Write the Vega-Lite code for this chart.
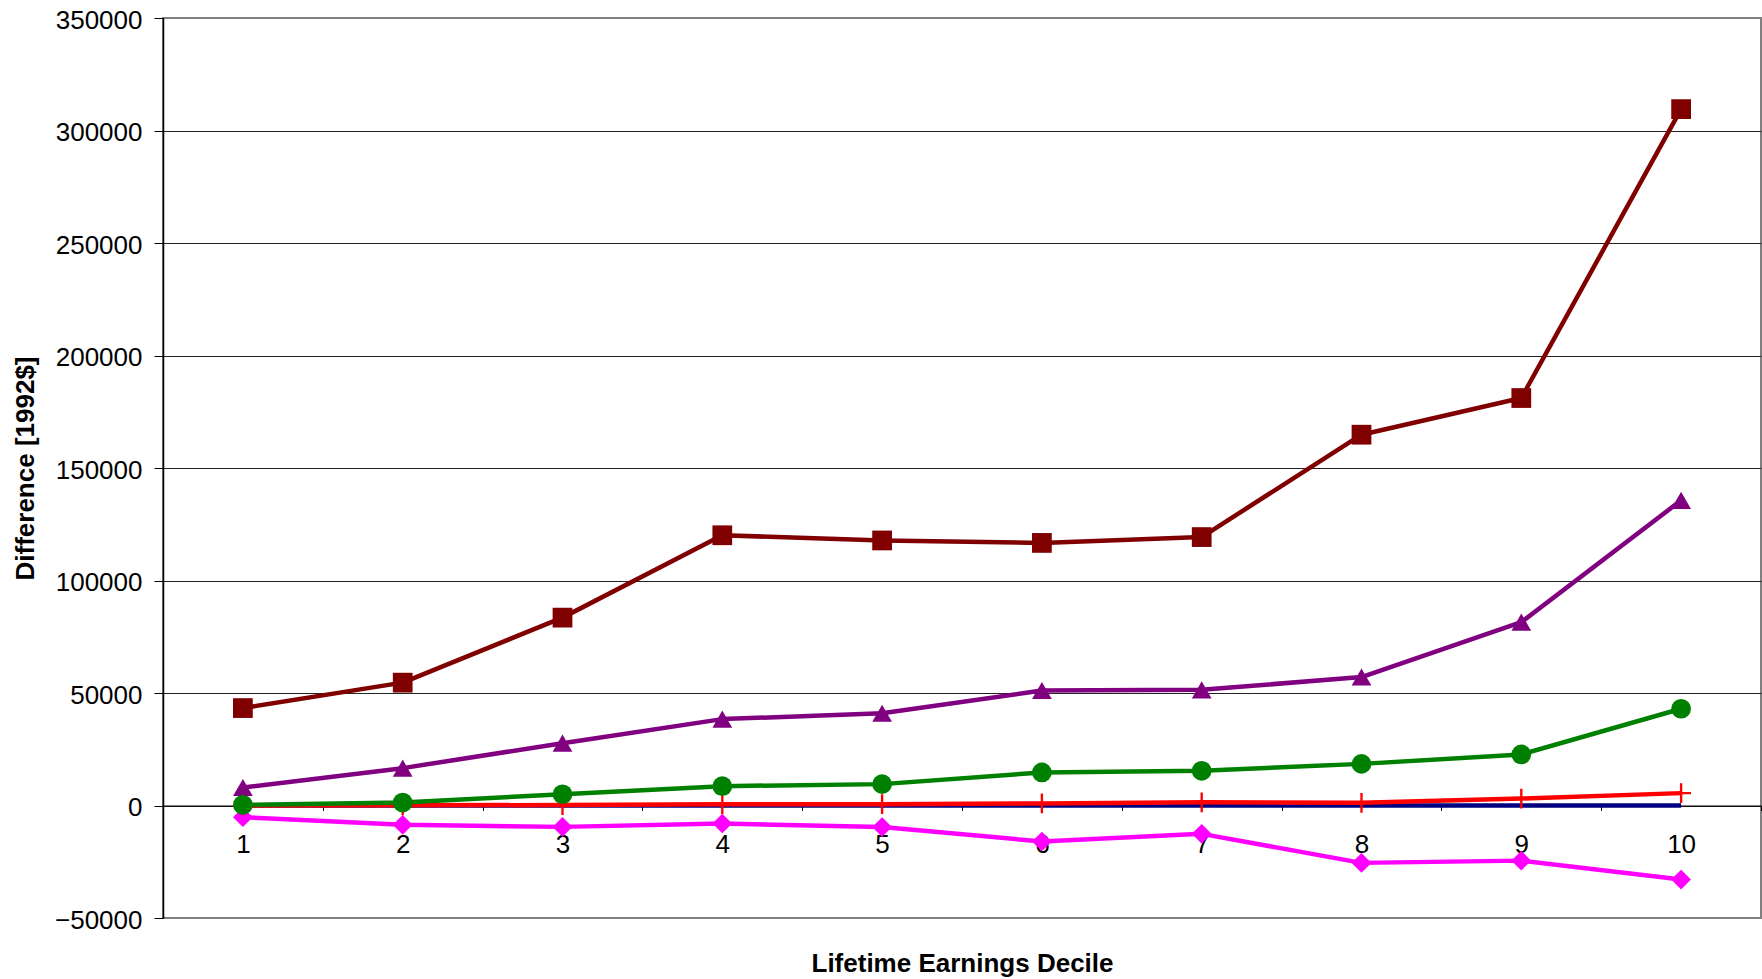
{
  "$schema": "https://vega.github.io/schema/vega-lite/v6.json",
  "width": 1598,
  "height": 900,
  "autosize": {"type": "none"},
  "padding": {"left": 163, "top": 18, "right": 1, "bottom": 61},
  "background": "white",
  "config": {
    "font": "Liberation Sans",
    "view": {"stroke": "#808080", "strokeWidth": 2}
  },
  "data": {
    "values": [
      {"decile": 1, "series": "Series 1", "value": 0},
      {"decile": 2, "series": "Series 1", "value": 0},
      {"decile": 3, "series": "Series 1", "value": 0},
      {"decile": 4, "series": "Series 1", "value": 0},
      {"decile": 5, "series": "Series 1", "value": 0},
      {"decile": 6, "series": "Series 1", "value": 0},
      {"decile": 7, "series": "Series 1", "value": 0},
      {"decile": 8, "series": "Series 1", "value": 0},
      {"decile": 9, "series": "Series 1", "value": 0},
      {"decile": 10, "series": "Series 1", "value": 0},
      {"decile": 1, "series": "Series 2", "value": -5200},
      {"decile": 2, "series": "Series 2", "value": -8600},
      {"decile": 3, "series": "Series 2", "value": -9500},
      {"decile": 4, "series": "Series 2", "value": -8000},
      {"decile": 5, "series": "Series 2", "value": -9600},
      {"decile": 6, "series": "Series 2", "value": -16000},
      {"decile": 7, "series": "Series 2", "value": -12600},
      {"decile": 8, "series": "Series 2", "value": -25500},
      {"decile": 9, "series": "Series 2", "value": -24500},
      {"decile": 10, "series": "Series 2", "value": -32900},
      {"decile": 1, "series": "Series 3", "value": 43300},
      {"decile": 2, "series": "Series 3", "value": 54600},
      {"decile": 3, "series": "Series 3", "value": 83500},
      {"decile": 4, "series": "Series 3", "value": 120100},
      {"decile": 5, "series": "Series 3", "value": 117800},
      {"decile": 6, "series": "Series 3", "value": 116700},
      {"decile": 7, "series": "Series 3", "value": 119300},
      {"decile": 8, "series": "Series 3", "value": 164800},
      {"decile": 9, "series": "Series 3", "value": 181100},
      {"decile": 10, "series": "Series 3", "value": 309500},
      {"decile": 1, "series": "Series 4", "value": 8000},
      {"decile": 2, "series": "Series 4", "value": 16600},
      {"decile": 3, "series": "Series 4", "value": 27700},
      {"decile": 4, "series": "Series 4", "value": 38400},
      {"decile": 5, "series": "Series 4", "value": 41000},
      {"decile": 6, "series": "Series 4", "value": 51100},
      {"decile": 7, "series": "Series 4", "value": 51400},
      {"decile": 8, "series": "Series 4", "value": 57100},
      {"decile": 9, "series": "Series 4", "value": 81500},
      {"decile": 10, "series": "Series 4", "value": 135600},
      {"decile": 1, "series": "Series 5", "value": 0},
      {"decile": 2, "series": "Series 5", "value": 100},
      {"decile": 3, "series": "Series 5", "value": 200},
      {"decile": 4, "series": "Series 5", "value": 600},
      {"decile": 5, "series": "Series 5", "value": 600},
      {"decile": 6, "series": "Series 5", "value": 900},
      {"decile": 7, "series": "Series 5", "value": 1400},
      {"decile": 8, "series": "Series 5", "value": 1200},
      {"decile": 9, "series": "Series 5", "value": 3100},
      {"decile": 10, "series": "Series 5", "value": 5500},
      {"decile": 1, "series": "Series 6", "value": 300},
      {"decile": 2, "series": "Series 6", "value": 1300},
      {"decile": 3, "series": "Series 6", "value": 5000},
      {"decile": 4, "series": "Series 6", "value": 8600},
      {"decile": 5, "series": "Series 6", "value": 9500},
      {"decile": 6, "series": "Series 6", "value": 14700},
      {"decile": 7, "series": "Series 6", "value": 15400},
      {"decile": 8, "series": "Series 6", "value": 18500},
      {"decile": 9, "series": "Series 6", "value": 22700},
      {"decile": 10, "series": "Series 6", "value": 43000}
    ]
  },
  "encoding": {
    "x": {
      "field": "decile",
      "type": "ordinal",
      "scale": {"type": "band", "paddingInner": 0, "paddingOuter": 0},
      "axis": {
        "title": "Lifetime Earnings Decile",
        "offset": -112.5,
        "labelAngle": 0,
        "labelFontSize": 26,
        "labelColor": "black",
        "labelPadding": 21,
        "tickSize": 5,
        "tickBand": "extent",
        "tickColor": "black",
        "domainColor": "black",
        "domainWidth": 1,
        "grid": false,
        "titleFontSize": 26,
        "titleFontWeight": "bold",
        "titleColor": "black",
        "titlePadding": 93
      }
    },
    "y": {
      "field": "value",
      "type": "quantitative",
      "scale": {"domain": [-50000, 350000], "nice": false, "zero": false},
      "axis": {
        "title": "Difference [1992$]",
        "values": [-50000, 0, 50000, 100000, 150000, 200000, 250000, 300000, 350000],
        "format": "d",
        "labelFontSize": 26,
        "labelColor": "black",
        "labelPadding": 12,
        "labelOffset": 2,
        "tickSize": 9,
        "tickColor": "black",
        "domainColor": "black",
        "domainWidth": 1.5,
        "grid": true,
        "gridColor": {
          "condition": {"test": "datum.value === 350000 || datum.value === -50000", "value": "#808080"},
          "value": "#222222"
        },
        "gridWidth": 1,
        "gridOpacity": 1,
        "titleFontSize": 26,
        "titleFontWeight": "bold",
        "titleColor": "black",
        "titlePadding": 16
      }
    },
    "color": {
      "field": "series",
      "type": "nominal",
      "scale": {
        "domain": ["Series 1", "Series 2", "Series 3", "Series 4", "Series 5", "Series 6"],
        "range": ["#000080", "#FF00FF", "#800000", "#800080", "#FF0000", "#008000"]
      },
      "legend": null
    }
  },
  "layer": [
    {
      "mark": {"type": "line", "strokeJoin": "round", "strokeWidth": 4.5}
    },
    {
      "transform": [{"filter": "datum.series !== 'Series 1'"}],
      "mark": {"type": "point", "filled": true, "opacity": 1, "size": 390},
      "encoding": {
        "shape": {
          "field": "series",
          "type": "nominal",
          "scale": {
            "domain": ["Series 2", "Series 3", "Series 4", "Series 5", "Series 6"],
            "range": ["diamond", "square", "triangle-up", "M-1,-0.12H-0.12V-1H0.12V-0.12H1V0.12H0.12V1H-0.12V0.12H-1Z", "circle"]
          },
          "legend": null
        }
      }
    }
  ]
}
